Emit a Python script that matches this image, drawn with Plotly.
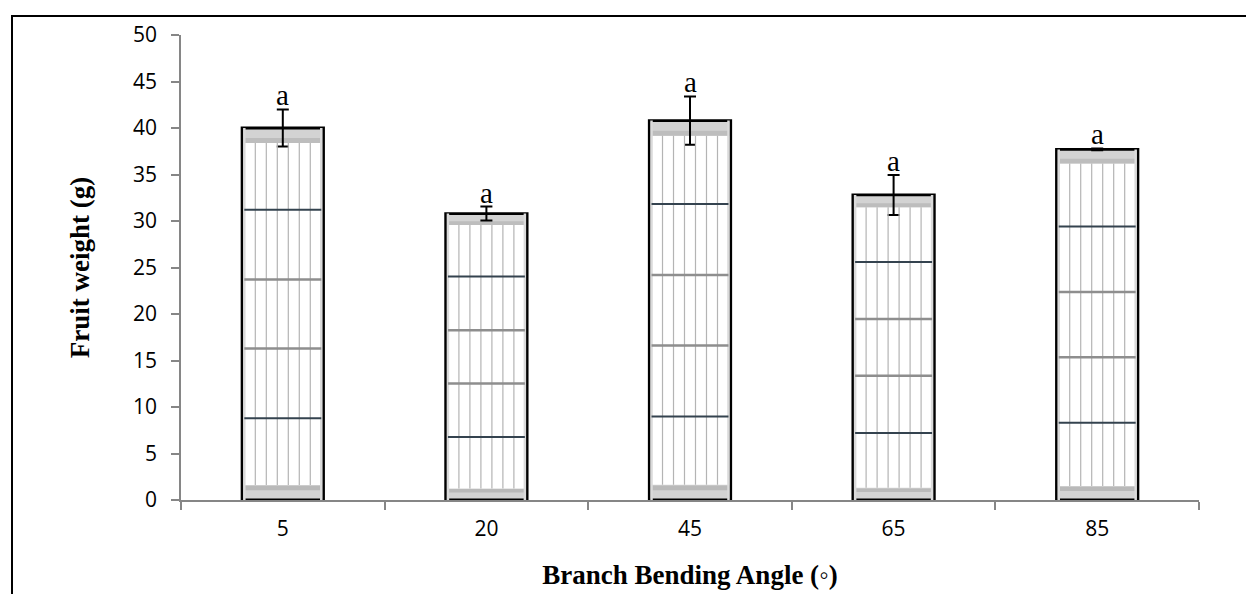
import plotly.graph_objects as go

# Fruit weight by branch bending angle
angles = ["5", "20", "45", "65", "85"]
fruit_weight = [40.0, 30.8, 40.8, 32.8, 37.7]
weight_err = [2.0, 0.75, 2.6, 2.15, 0.1]
letters = ["a", "a", "a", "a", "a"]

xs = list(range(len(angles)))

# texture styling of the bar fill
BAR_W = 0.4
PITCH = BAR_W * 0.135
STRIPE_OFFSETS = [k * PITCH for k in (-2.5, -1.5, -0.5, 0.5, 1.5, 2.5)]
EDGE_OFFSETS = [-3.5 * PITCH, 3.5 * PITCH]
BAND = 0.04
DARK_FRACS = [0.22, 0.78]
GRAY_FRACS = [0.407, 0.593]
AXIS_GRAY = "#868686"

fig = go.Figure()

# top and bottom shaded bands
fig.add_trace(go.Bar(x=xs, y=[v * BAND for v in fruit_weight], base=[0] * len(xs),
                     width=BAR_W, marker=dict(color="#d3d3d3", line=dict(width=0)),
                     hoverinfo="skip"))
fig.add_trace(go.Bar(x=xs, y=[v * 0.012 for v in fruit_weight],
                     base=[v * (BAND - 0.014) for v in fruit_weight],
                     width=BAR_W, marker=dict(color="#b9b9b9", line=dict(width=0)),
                     hoverinfo="skip"))
fig.add_trace(go.Bar(x=xs, y=[v * BAND for v in fruit_weight],
                     base=[v * (1 - BAND) for v in fruit_weight],
                     width=BAR_W, marker=dict(color="#d3d3d3", line=dict(width=0)),
                     hoverinfo="skip"))
fig.add_trace(go.Bar(x=xs, y=[v * 0.013 for v in fruit_weight],
                     base=[v * (1 - BAND) for v in fruit_weight],
                     width=BAR_W, marker=dict(color="#bdbdbd", line=dict(width=0)),
                     hoverinfo="skip"))


def vlines(offsets, lo, hi):
    px, py = [], []
    for x, v in zip(xs, fruit_weight):
        for off in offsets:
            px += [x + off, x + off, None]
            py += [v * lo, v * hi, None]
    return px, py


def hlines(fracs):
    px, py = [], []
    half = 3.5 * PITCH
    for x, v in zip(xs, fruit_weight):
        for f in fracs:
            px += [x - half, x + half, None]
            py += [v * f, v * f, None]
    return px, py


ex, ey = vlines(EDGE_OFFSETS, 0, 1)
fig.add_trace(go.Scatter(x=ex, y=ey, mode="lines", line=dict(color="#dadada", width=2.5),
                         hoverinfo="skip"))
sx, sy = vlines(STRIPE_OFFSETS, BAND, 1 - BAND)
fig.add_trace(go.Scatter(x=sx, y=sy, mode="lines", line=dict(color="#b4b4b4", width=1.2),
                         hoverinfo="skip"))
gx, gy = hlines(GRAY_FRACS)
fig.add_trace(go.Scatter(x=gx, y=gy, mode="lines", line=dict(color="#8e8e8e", width=2.5),
                         hoverinfo="skip"))
dx, dy = hlines(DARK_FRACS)
fig.add_trace(go.Scatter(x=dx, y=dy, mode="lines", line=dict(color="#34434f", width=2),
                         hoverinfo="skip"))

# bar outlines with error bars
fig.add_trace(go.Bar(
    x=xs, y=fruit_weight, width=BAR_W,
    marker=dict(color="rgba(0,0,0,0)", line=dict(color="black", width=2.8)),
    error_y=dict(type="data", array=weight_err, visible=True, color="black",
                 thickness=2, width=6),
))

for x, v, e, t in zip(xs, fruit_weight, weight_err, letters):
    fig.add_annotation(x=x, y=v + e, text=t, showarrow=False, yanchor="bottom",
                       yshift=-4, font=dict(family="Liberation Serif", size=29, color="black"))

# outer frame
fig.add_shape(type="rect", xref="paper", yref="paper",
              x0=(12 - 181) / 1018, x1=(1252 - 181) / 1018,
              y0=(500 - 600) / 465, y1=(500 - 16) / 465,
              line=dict(color="black", width=2), layer="above")

fig.update_layout(
    width=1246, height=594,
    margin=dict(l=181, r=47, t=35, b=94, autoexpand=False),
    paper_bgcolor="white", plot_bgcolor="white",
    barmode="overlay", showlegend=False,
    xaxis=dict(
        range=[-0.5, len(xs) - 0.5], tickmode="array", tickvals=xs, ticktext=angles,
        ticks="", showline=True, linecolor=AXIS_GRAY, linewidth=1.5,
        showgrid=False, zeroline=False, ticklabelstandoff=9,
        tickfont=dict(family="Open Sans", size=21, color="black"),
        minor=dict(tickmode="array", tickvals=[x - 0.5 for x in xs] + [xs[-1] + 0.5],
                   ticks="outside", ticklen=8, tickcolor=AXIS_GRAY, tickwidth=1.5,
                   showgrid=False),
        title=dict(text="Branch Bending Angle (◦)", standoff=24,
                   font=dict(family="Liberation Serif", size=27, color="black", weight="bold")),
    ),
    yaxis=dict(
        range=[0, 50], tickmode="linear", tick0=0, dtick=5,
        ticks="outside", ticklen=8, tickcolor=AXIS_GRAY, tickwidth=1.5,
        showline=True, linecolor=AXIS_GRAY, linewidth=1.5,
        showgrid=False, zeroline=False, ticklabelstandoff=10,
        tickfont=dict(family="Open Sans", size=21, color="black"),
        title=dict(text="Fruit weight (g)", standoff=36,
                   font=dict(family="Liberation Serif", size=27, color="black", weight="bold")),
    ),
)

fig.write_html("out.html")
